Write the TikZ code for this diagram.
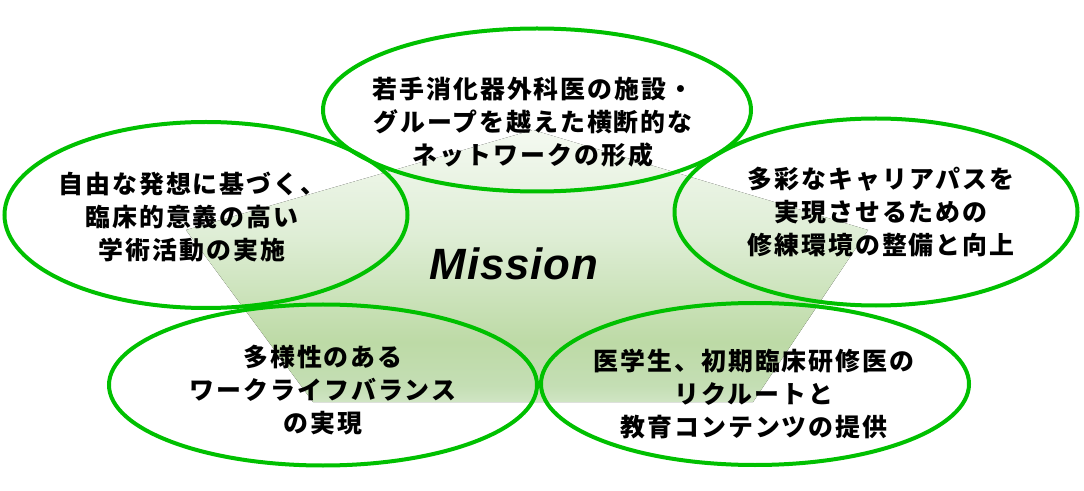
\documentclass[tikz,border=0pt]{standalone}
\usepackage{fontspec}
\usetikzlibrary{shapes.geometric}
\newfontfamily\jpfont{Noto Sans CJK JP}[LetterSpace=8]
\newfontfamily\misfont{Liberation Sans}[LetterSpace=2]
\definecolor{ringgreen}{RGB}{0,192,0}
\definecolor{pA}{RGB}{208,229,196}
\definecolor{pB}{RGB}{196,222,180}
\definecolor{pC}{RGB}{189,218,166}
\definecolor{pD}{RGB}{223,238,214}
\definecolor{pE}{RGB}{244,249,241}
\pgfdeclareverticalshading{pentshade}{100bp}{color(0bp)=(pA); color(25bp)=(pA); color(28bp)=(pB); color(36bp)=(pC); color(56bp)=(pD); color(75bp)=(pE); color(100bp)=(pE)}
\tikzset{
  ring/.style={draw=ringgreen, line width=4bp, ellipse, inner sep=0pt, outer sep=0pt},
  jptext/.style={font=\jpfont\bfseries\fontsize{25}{33}\selectfont, align=center, inner sep=0pt, text=black},
}
\begin{document}
\begin{tikzpicture}[x=1bp,y=-1bp]
\useasboundingbox (0,0) rectangle (1084,491);
% pentagon
\coordinate (pT) at (533,130);
\coordinate (pL) at (186,230);
\coordinate (pR) at (868,230);
\coordinate (pBR) at (753,402);
\coordinate (pBL) at (313,402);
\fill[shading=pentshade] (pT) -- (pR) -- (pBR) -- (pBL) -- (pL) -- cycle;
% rings
\node[ring, minimum width=428bp, minimum height=163bp] (e1) at (537,110) {};
\node[ring, minimum width=403bp, minimum height=186bp] (e2) at (206,215) {};
\node[ring, minimum width=403bp, minimum height=187bp] (e3) at (876,212) {};
\node[ring, minimum width=428bp, minimum height=161bp] (e4) at (323,385) {};
\node[ring, minimum width=428bp, minimum height=162bp] (e5) at (755,384) {};
% texts
\node[jptext] (t1) at (533,122) {若手消化器外科医の施設・\\グループを越えた横断的な\\ネットワークの形成};
\node[jptext] (t2) at (192,217) {自由な発想に基づく、\\臨床的意義の高い\\学術活動の実施};
\node[jptext] (t3) at (881,212) {多彩なキャリアパスを\\実現させるための\\修練環境の整備と向上};
\node[jptext] (t4) at (323,390) {多様性のある\\ワークライフバランス\\の実現};
\node[jptext] (t5) at (754,394) {医学生、初期臨床研修医の\\リクルートと\\教育コンテンツの提供};
\node[anchor=base, inner sep=0pt, font=\misfont\bfseries\itshape\fontsize{44}{50}\selectfont] (mis) at (514,280) {Mission};
\end{tikzpicture}
\end{document}
